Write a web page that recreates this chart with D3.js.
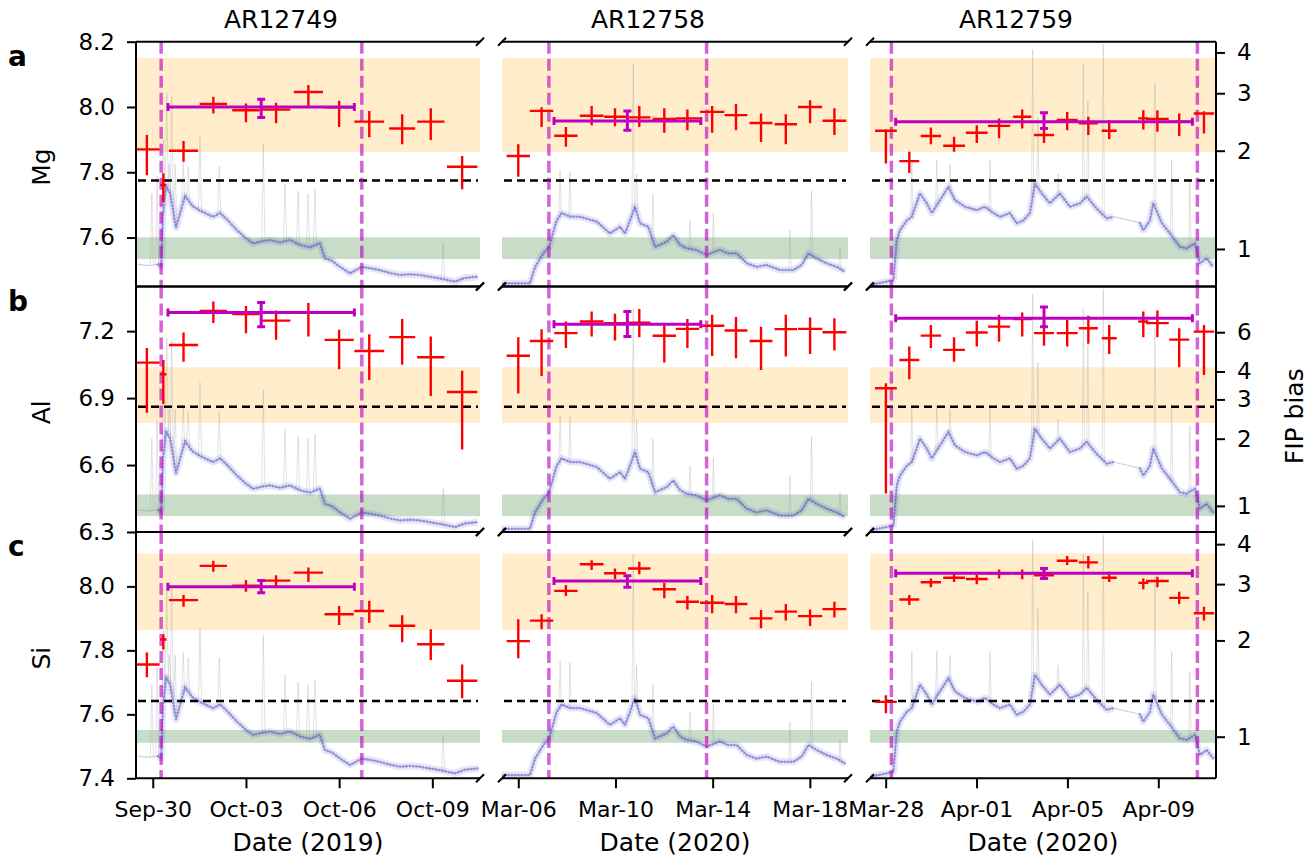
<!DOCTYPE html>
<html>
<head>
  <meta charset="utf-8">
  <script src="https://d3js.org/d3.v7.min.js"></script>
  <style>
    body { margin: 0; background: #fff; }
    svg text { font-family: "DejaVu Sans", sans-serif; fill: #000; }
  </style>
</head>
<body>
<svg id="chart"></svg>
<script>
  // ---- data ----
  const regions = ["AR12749", "AR12758", "AR12759"];
  const years = ["2019", "2020", "2020"];
  const startDates = ["2019-09-29", "2020-03-05", "2020-03-27"]; // times below are days after these
  const elements = ["Mg", "Al", "Si"];
  const panelLetters = ["a", "b", "c"];

  const xDomains = [[0.46, 11.535], [0.33, 14.57], [0.31, 15.54]];
  const xTickDays = [[1, 4, 7, 10], [1, 5, 9, 13], [1, 5, 9, 13]];

  const yDomains = [[7.45, 8.2], [6.3, 7.4], [7.4, 8.17]];
  const yTicks = [[7.6, 7.8, 8.0, 8.2], [6.3, 6.6, 6.9, 7.2], [7.4, 7.6, 7.8, 8.0]];
  const photospheric = [7.565, 6.417, 7.53];      // FIP bias = 1
  const fipTicks = [[1, 2, 3, 4], [1, 2, 3, 4, 6], [1, 2, 3, 4]];
  const coronalBand = [[7.862, 8.150], [6.789, 7.038], [7.863, 8.103]];
  const photoBand = [[7.534, 7.601], [6.371, 6.468], [7.511, 7.551]];
  const referenceLevel = [7.775, 6.861, 7.642];

  // emergence / end markers (days)
  const eventDays = [[1.27, 7.73], [2.26, 8.75], [1.25, 14.72]];

  // observation times and half widths (days)
  const obsTime = [
    [0.81, 1.34, 1.99, 2.95, 4.00, 4.97, 6.01, 7.00, 7.97, 9.03, 9.95, 10.96],
    [1.00, 1.96, 2.96, 4.02, 4.98, 5.98, 7.01, 7.96, 8.98, 9.96, 10.99, 12.01, 13.01, 14.01],
    [1.01, 2.04, 2.99, 4.01, 5.01, 5.99, 7.01, 7.97, 8.99, 9.92, 10.84, 12.34, 12.96, 13.92, 15.01]
  ];
  const obsHalfWidth = [
    [0.41, 0.10, 0.47, 0.44, 0.44, 0.46, 0.47, 0.47, 0.48, 0.42, 0.44, 0.49],
    [0.48, 0.48, 0.48, 0.49, 0.45, 0.46, 0.48, 0.48, 0.50, 0.47, 0.47, 0.46, 0.50, 0.49],
    [0.48, 0.44, 0.45, 0.48, 0.48, 0.49, 0.40, 0.44, 0.46, 0.42, 0.33, 0.22, 0.50, 0.44, 0.45]
  ];

  // [value, lower, upper]
  const mgValues = [
    [[7.870, 7.791, 7.914], [7.761, 7.710, 7.797], [7.866, 7.832, 7.896], [8.009, 7.980, 8.031],
     [7.990, 7.953, 8.011], [7.992, 7.950, 8.013], [8.046, 8.003, 8.067], [7.999, 7.939, 8.019],
     [7.955, 7.907, 7.988], [7.934, 7.886, 7.978], [7.955, 7.899, 7.996], [7.817, 7.748, 7.850]],
    [[7.850, 7.786, 7.886], [7.988, 7.939, 7.999], [7.912, 7.878, 7.939], [7.973, 7.944, 8.003],
     [7.970, 7.941, 7.996], [7.968, 7.939, 8.003], [7.963, 7.921, 7.996], [7.965, 7.929, 7.992],
     [7.985, 7.921, 8.003], [7.975, 7.929, 8.009], [7.951, 7.893, 7.980], [7.947, 7.886, 7.978],
     [8.000, 7.950, 8.021], [7.958, 7.914, 7.996]],
    [[7.927, 7.827, 7.931], [7.834, 7.798, 7.863], [7.911, 7.886, 7.937], [7.881, 7.863, 7.909],
     [7.921, 7.890, 7.944], [7.942, 7.904, 7.965], [7.970, 7.934, 7.992], [7.914, 7.890, 7.939],
     [7.960, 7.929, 7.985], [7.950, 7.914, 7.970], [7.927, 7.901, 7.960], [7.965, 7.931, 7.990],
     [7.963, 7.924, 7.990], [7.955, 7.911, 7.980], [7.980, 7.919, 7.987]]
  ];
  const alValues = [
    [[7.059, 6.834, 7.124], [7.007, 6.873, 7.071], [7.138, 7.063, 7.194], [7.291, 7.236, 7.333],
     [7.276, 7.191, 7.313], [7.247, 7.161, 7.292], [7.283, 7.176, 7.326], [7.161, 7.029, 7.206],
     [7.111, 6.981, 7.186], [7.173, 7.049, 7.254], [7.083, 6.909, 7.176], [6.927, 6.670, 7.023]],
    [[7.090, 6.921, 7.173], [7.156, 6.999, 7.209], [7.191, 7.124, 7.243], [7.243, 7.176, 7.288],
     [7.236, 7.158, 7.278], [7.238, 7.173, 7.299], [7.179, 7.059, 7.236], [7.210, 7.124, 7.254],
     [7.224, 7.089, 7.273], [7.203, 7.079, 7.263], [7.156, 7.026, 7.220], [7.209, 7.086, 7.273],
     [7.210, 7.098, 7.261], [7.195, 7.113, 7.258]],
    [[6.944, 6.472, 6.966], [7.071, 6.984, 7.131], [7.180, 7.124, 7.228], [7.116, 7.063, 7.173],
     [7.194, 7.131, 7.247], [7.220, 7.153, 7.273], [7.254, 7.176, 7.283], [7.191, 7.134, 7.243],
     [7.191, 7.131, 7.251], [7.213, 7.143, 7.269], [7.168, 7.098, 7.228], [7.243, 7.173, 7.288],
     [7.236, 7.173, 7.292], [7.162, 7.038, 7.213], [7.198, 7.004, 7.228]]
  ];
  const siValues = [
    [[7.756, 7.716, 7.793], [7.834, 7.803, 7.850], [7.957, 7.936, 7.973], [8.064, 8.046, 8.080],
     [8.002, 7.983, 8.020], [8.018, 8.001, 8.035], [8.043, 8.014, 8.059], [7.913, 7.879, 7.939],
     [7.923, 7.886, 7.955], [7.877, 7.825, 7.910], [7.819, 7.770, 7.866], [7.705, 7.650, 7.756]],
    [[7.829, 7.775, 7.897], [7.893, 7.866, 7.913], [7.986, 7.970, 8.004], [8.069, 8.051, 8.082],
     [8.041, 8.023, 8.056], [8.056, 8.038, 8.077], [7.991, 7.963, 8.011], [7.952, 7.928, 7.970],
     [7.949, 7.916, 7.973], [7.945, 7.916, 7.970], [7.900, 7.869, 7.926], [7.921, 7.893, 7.945],
     [7.907, 7.876, 7.928], [7.929, 7.903, 7.952]],
    [[7.639, 7.603, 7.660], [7.959, 7.942, 7.973], [8.013, 7.997, 8.025], [8.027, 8.014, 8.038],
     [8.023, 8.007, 8.037], [8.041, 8.025, 8.053], [8.041, 8.022, 8.053], [8.035, 8.020, 8.051],
     [8.080, 8.067, 8.095], [8.075, 8.056, 8.095], [8.027, 8.014, 8.046], [8.011, 7.991, 8.025],
     [8.017, 7.997, 8.030], [7.964, 7.945, 7.983], [7.916, 7.893, 7.936]]
  ];

  // mean over the emergence interval
  const meanTime = [4.49, 5.49, 7.97];
  const meanHalfWidth = [3.0, 3.02, 6.53];
  const mgMean = [[8.000, 7.968, 8.024], [7.957, 7.929, 7.988], [7.955, 7.934, 7.982]];
  const alMean = [[7.283, 7.220, 7.328], [7.231, 7.176, 7.288], [7.258, 7.220, 7.308]];
  const siMean = [[7.999, 7.980, 8.018], [8.017, 7.997, 8.033], [8.041, 8.025, 8.056]];

  // background light curve (arbitrary units, 0-100 of the panel height)
  const fluxTime = [
    [0.53, 0.90, 1.17, 1.27, 1.33, 1.43, 1.56, 1.75, 1.88, 2.04, 2.27, 2.52, 2.94, 3.17, 3.42, 3.71,
     3.97, 4.23, 4.52, 4.78, 5.10, 5.42, 5.74, 6.06, 6.38, 6.54, 6.77, 7.03, 7.35, 7.73, 7.99, 8.31,
     8.64, 8.96, 9.28, 9.60, 9.92, 10.24, 10.73, 11.05, 11.47],
    [0.33, 1.48, 1.69, 2.03, 2.26, 2.58, 2.79, 3.13, 3.54, 4.23, 4.77, 5.19, 5.39, 5.60, 5.80, 6.01,
     6.35, 6.63, 7.11, 7.38, 7.66, 7.93, 8.34, 8.75, 9.30, 9.64, 9.99, 10.40, 10.81, 11.22, 11.77,
     12.32, 12.66, 12.94, 13.28, 13.69, 14.10, 14.45],
    [0.31, 1.34, 1.49, 1.63, 1.93, 2.15, 2.51, 2.81, 3.03, 3.39, 3.76, 4.05, 4.49, 5.01, 5.37, 5.74,
     6.03, 6.47, 6.77, 7.06, 7.35, 7.57, 7.87, 8.23, 8.67, 9.11, 9.55, 9.85, 10.29, 10.73, 11.02,
     12.19, 12.34, 12.63, 12.78, 13.15, 13.51, 13.95, 14.25, 14.61, 14.83, 15.13, 15.42]
  ];
  const fluxLevel = [
    [9, 8.5, 9, 8, 30, 41, 38, 24, 30, 37, 33, 31, 28.5, 30, 27, 23, 20, 17.6, 18.5, 19, 18, 19, 17,
     16, 17.7, 11.5, 10.5, 8, 5.4, 8, 7.5, 6.7, 5.5, 4.7, 5, 4.7, 4, 3.3, 2, 3.5, 4],
    [1.3, 1.3, 8, 13.5, 16, 27, 30, 28.5, 28.5, 26.5, 21.7, 24.4, 21.7, 27, 32.6, 25.8, 24.4, 16.2,
     18.3, 21, 17, 15.6, 14.9, 12.9, 15, 13.5, 13.5, 9.5, 8, 8.8, 6.7, 6.7, 8.8, 13.5, 11.5, 9.5, 8, 6],
    [0.6, 2.6, 19, 23, 27, 28.5, 38, 34, 30, 35.3, 40.7, 35.3, 32.6, 31.2, 32.6, 30, 28.5, 30, 25.8,
     27, 30, 42, 38, 34, 38, 32.6, 34, 36.7, 31.8, 27.8, 28.5, 26, 23, 27, 34, 26, 21.7, 16.2, 15.6,
     17.6, 9.5, 11.5, 8]
  ];
  // data gaps in the binned curve: last time before a gap
  const fluxGapAfter = [[0.90], [], [11.02]];
  const flareTime = [
    [0.97, 1.14, 1.35, 1.45, 1.53, 1.61, 1.72, 1.98, 2.14, 2.52, 3.14, 4.56, 5.26, 5.68, 6.00, 6.22, 10.35],
    [2.72, 3.13, 5.73, 5.87, 6.54, 8.07, 9.03, 12.18, 13.07, 14.24],
    [2.15, 3.25, 3.83, 5.59, 7.47, 7.70, 8.59, 9.70, 9.90, 10.58, 12.85, 13.59, 14.39]
  ];
  const flarePeak = [
    [38, 45, 60, 79, 50, 78, 50, 51, 49, 61, 49, 58, 42, 39, 38, 40, 17.7],
    [47.5, 47, 91, 46, 38, 27, 30, 23, 39, 16],
    [51.6, 51.6, 50, 51.6, 96.8, 69, 46, 91, 76, 99, 83, 51.6, 43.5]
  ];

  const abundance = [mgValues, alValues, siValues];
  const meanValues = [mgMean, alMean, siMean];

  // ---- layout ----
  var width = 1312;
  var height = 857;
  const colX = [[136, 480], [502, 848], [870, 1216]];
  const rowY = [[41.7, 286.5], [286.5, 532], [532, 778.3]];

  var svg = d3.select("#chart")
    .attr("width", width)
    .attr("height", height);

  const parseDay = d3.timeParse("%Y-%m-%d");
  function toDate(c, d) {
    return new Date(parseDay(startDates[c]).getTime() + d * 864e5);
  }

  function levelAt(c, t) {
    var ts = fluxTime[c], ls = fluxLevel[c];
    var i = d3.bisectLeft(ts, t);
    if (i <= 0) return ls[0];
    if (i >= ts.length) return ls[ls.length - 1];
    var f = (t - ts[i - 1]) / (ts[i] - ts[i - 1]);
    return ls[i - 1] + f * (ls[i] - ls[i - 1]);
  }

  function styleAxis(g, size) {
    g.attr("font-family", null).attr("font-size", null);
    g.select(".domain").remove();
    g.selectAll(".tick line").attr("stroke", "#000").attr("stroke-width", 2);
    g.selectAll(".tick text").style("font-size", size + "px");
  }

  regions.forEach(function(region, c) {
    var x = d3.scaleTime()
      .domain(xDomains[c].map(d => toDate(c, d)))
      .range(colX[c]);
    var xd = d => x(toDate(c, d));

    // binned curve split at data gaps
    var series = fluxTime[c].map((t, i) => [t, fluxLevel[c][i]]);
    var segs = [[]];
    series.forEach(function(d) {
      segs[segs.length - 1].push(d);
      if (fluxGapAfter[c].indexOf(d[0]) > -1) segs.push([]);
    });

    elements.forEach(function(el, r) {
      var y = d3.scaleLinear().domain(yDomains[r]).range([rowY[r][1], rowY[r][0]]);
      var fy = d3.scaleLinear().domain([0, 100]).range([rowY[r][1], rowY[r][0]]);
      var x0 = colX[c][0], x1 = colX[c][1], y0 = rowY[r][0], y1 = rowY[r][1];

      var clipId = "clip" + r + "_" + c;
      svg.append("clipPath").attr("id", clipId)
        .append("rect")
        .attr("x", x0).attr("y", y0)
        .attr("width", x1 - x0).attr("height", y1 - y0);

      var g = svg.append("g").attr("clip-path", "url(#" + clipId + ")");

      // shaded ranges
      g.append("rect")
        .attr("x", x0).attr("width", x1 - x0)
        .attr("y", y(coronalBand[r][1]))
        .attr("height", y(coronalBand[r][0]) - y(coronalBand[r][1]))
        .attr("fill", "rgba(255,165,0,0.2)");
      g.append("rect")
        .attr("x", x0).attr("width", x1 - x0)
        .attr("y", y(photoBand[r][1]))
        .attr("height", y(photoBand[r][0]) - y(photoBand[r][1]))
        .attr("fill", "rgba(0,100,0,0.22)");

      // light curve
      var line = d3.line().x(d => xd(d[0])).y(d => fy(d[1]));
      g.append("path")
        .attr("d", line(series))
        .attr("fill", "none")
        .attr("stroke", "#999")
        .attr("stroke-opacity", 0.45)
        .attr("stroke-width", 1.2);

      flareTime[c].forEach(function(t, i) {
        var base = levelAt(c, t);
        g.append("path")
          .attr("d", line([[t - 0.05, base], [t, flarePeak[c][i]], [t + 0.05, base]]))
          .attr("fill", "none")
          .attr("stroke", "#999")
          .attr("stroke-opacity", 0.3)
          .attr("stroke-width", 0.9);
      });

      segs.forEach(function(s) {
        if (s.length < 2 || s[s.length - 1][0] < 1) return;
        g.append("path")
          .attr("d", line(s))
          .attr("fill", "none")
          .attr("stroke", "#3c3cd0")
          .attr("stroke-opacity", 0.13)
          .attr("stroke-width", 7)
          .attr("stroke-linejoin", "round");
        g.append("path")
          .attr("d", line(s))
          .attr("fill", "none")
          .attr("stroke", "#2a2ac8")
          .attr("stroke-opacity", 0.35)
          .attr("stroke-width", 2.8)
          .attr("stroke-linecap", "round")
          .attr("stroke-dasharray", "0.1 3.2");
      });

      // reference level
      g.append("line")
        .attr("x1", x0 + 2).attr("x2", x1 - 2)
        .attr("y1", y(referenceLevel[r])).attr("y2", y(referenceLevel[r]))
        .attr("stroke", "#000")
        .attr("stroke-width", 2.5)
        .attr("stroke-dasharray", "8,5");

      // event markers
      eventDays[c].forEach(function(d) {
        g.append("line")
          .attr("x1", xd(d)).attr("x2", xd(d))
          .attr("y1", y0).attr("y2", y1)
          .attr("stroke", "#bf00bf")
          .attr("stroke-opacity", 0.62)
          .attr("stroke-width", 3.5)
          .attr("stroke-dasharray", "12,5");
      });

      // measurements
      abundance[r][c].forEach(function(v, i) {
        var t = obsTime[c][i], hw = obsHalfWidth[c][i];
        g.append("line")
          .attr("x1", xd(t - hw)).attr("x2", xd(t + hw))
          .attr("y1", y(v[0])).attr("y2", y(v[0]))
          .attr("stroke", "red").attr("stroke-width", 2.4);
        g.append("line")
          .attr("x1", xd(t)).attr("x2", xd(t))
          .attr("y1", y(v[1])).attr("y2", y(v[2]))
          .attr("stroke", "red").attr("stroke-width", 2.4);
      });

      // mean with caps
      var m = meanValues[r][c];
      var mg = g.append("g").attr("stroke", "#c000c0").attr("stroke-width", 3);
      var mx0 = xd(meanTime[c] - meanHalfWidth[c]), mx1 = xd(meanTime[c] + meanHalfWidth[c]);
      var mxc = xd(meanTime[c]), my = y(m[0]);
      mg.append("line").attr("x1", mx0).attr("x2", mx1).attr("y1", my).attr("y2", my);
      [mx0, mx1].forEach(px =>
        mg.append("line").attr("x1", px).attr("x2", px).attr("y1", my - 4).attr("y2", my + 4));
      mg.append("line").attr("x1", mxc).attr("x2", mxc).attr("y1", y(m[1])).attr("y2", y(m[2]));
      [m[1], m[2]].forEach(v =>
        mg.append("line").attr("x1", mxc - 4).attr("x2", mxc + 4).attr("y1", y(v)).attr("y2", y(v)));

      // spines
      var sp = svg.append("g").attr("stroke", "#000").attr("stroke-width", 2).attr("fill", "none");
      [y0, y1].forEach(function(yy) {
        sp.append("line").attr("x1", x0).attr("x2", x1).attr("y1", yy).attr("y2", yy);
      });
      if (c == 0) sp.append("line").attr("x1", x0).attr("x2", x0).attr("y1", y0).attr("y2", y1);
      if (c == 2) sp.append("line").attr("x1", x1).attr("x2", x1).attr("y1", y0).attr("y2", y1);
      // break marks
      var ends = c == 0 ? [x1] : (c == 1 ? [x0, x1] : [x0]);
      ends.forEach(function(ex) {
        [y0, y1].forEach(function(yy) {
          sp.append("line")
            .attr("x1", ex - 4).attr("y1", yy + 4)
            .attr("x2", ex + 4).attr("y2", yy - 4);
        });
      });

      // axes
      if (c == 0) {
        svg.append("g")
          .attr("transform", "translate(" + x0 + ",0)")
          .call(d3.axisLeft(y).tickValues(yTicks[r]).tickFormat(d3.format(".1f")).tickSize(9).tickPadding(12))
          .call(a => styleAxis(a, 23));
        svg.append("text")
          .attr("transform", "translate(50," + ((y0 + y1) / 2 + 3) + ") rotate(-90)")
          .attr("text-anchor", "middle")
          .style("font-size", "25px")
          .text(el);
        svg.append("text")
          .attr("x", 8).attr("y", y0 + 24)
          .style("font-size", "28px")
          .style("font-weight", "bold")
          .text(panelLetters[r]);
      }
      if (c == 2) {
        var fip = d3.scaleLog()
          .domain(yDomains[r].map(v => Math.pow(10, v - photospheric[r])))
          .range([y1, y0]);
        svg.append("g")
          .attr("transform", "translate(" + x1 + ",0)")
          .call(d3.axisRight(fip).tickValues(fipTicks[r]).tickFormat(d3.format("d")).tickSize(9).tickPadding(12))
          .call(a => styleAxis(a, 23));
      }
      if (r == 2) {
        svg.append("g")
          .attr("transform", "translate(0," + y1 + ")")
          .call(d3.axisBottom(x).tickValues(xTickDays[c].map(d => toDate(c, d)))
            .tickFormat(d3.timeFormat("%b-%d")).tickSize(10).tickPadding(13))
          .call(a => styleAxis(a, 22));
        svg.append("text")
          .attr("x", (x0 + x1) / 2).attr("y", 851)
          .attr("text-anchor", "middle")
          .style("font-size", "25px")
          .text("Date (" + years[c] + ")");
      }
      if (r == 0) {
        svg.append("text")
          .attr("x", (x0 + x1) / 2 - 27).attr("y", 28)
          .attr("text-anchor", "middle")
          .style("font-size", "25px")
          .text(region);
      }
    });
  });

  svg.append("text")
    .attr("transform", "translate(1303," + ((rowY[1][0] + rowY[1][1]) / 2 + 7) + ") rotate(-90)")
    .attr("text-anchor", "middle")
    .style("font-size", "25px")
    .text("FIP bias");
</script>
</body>
</html>
